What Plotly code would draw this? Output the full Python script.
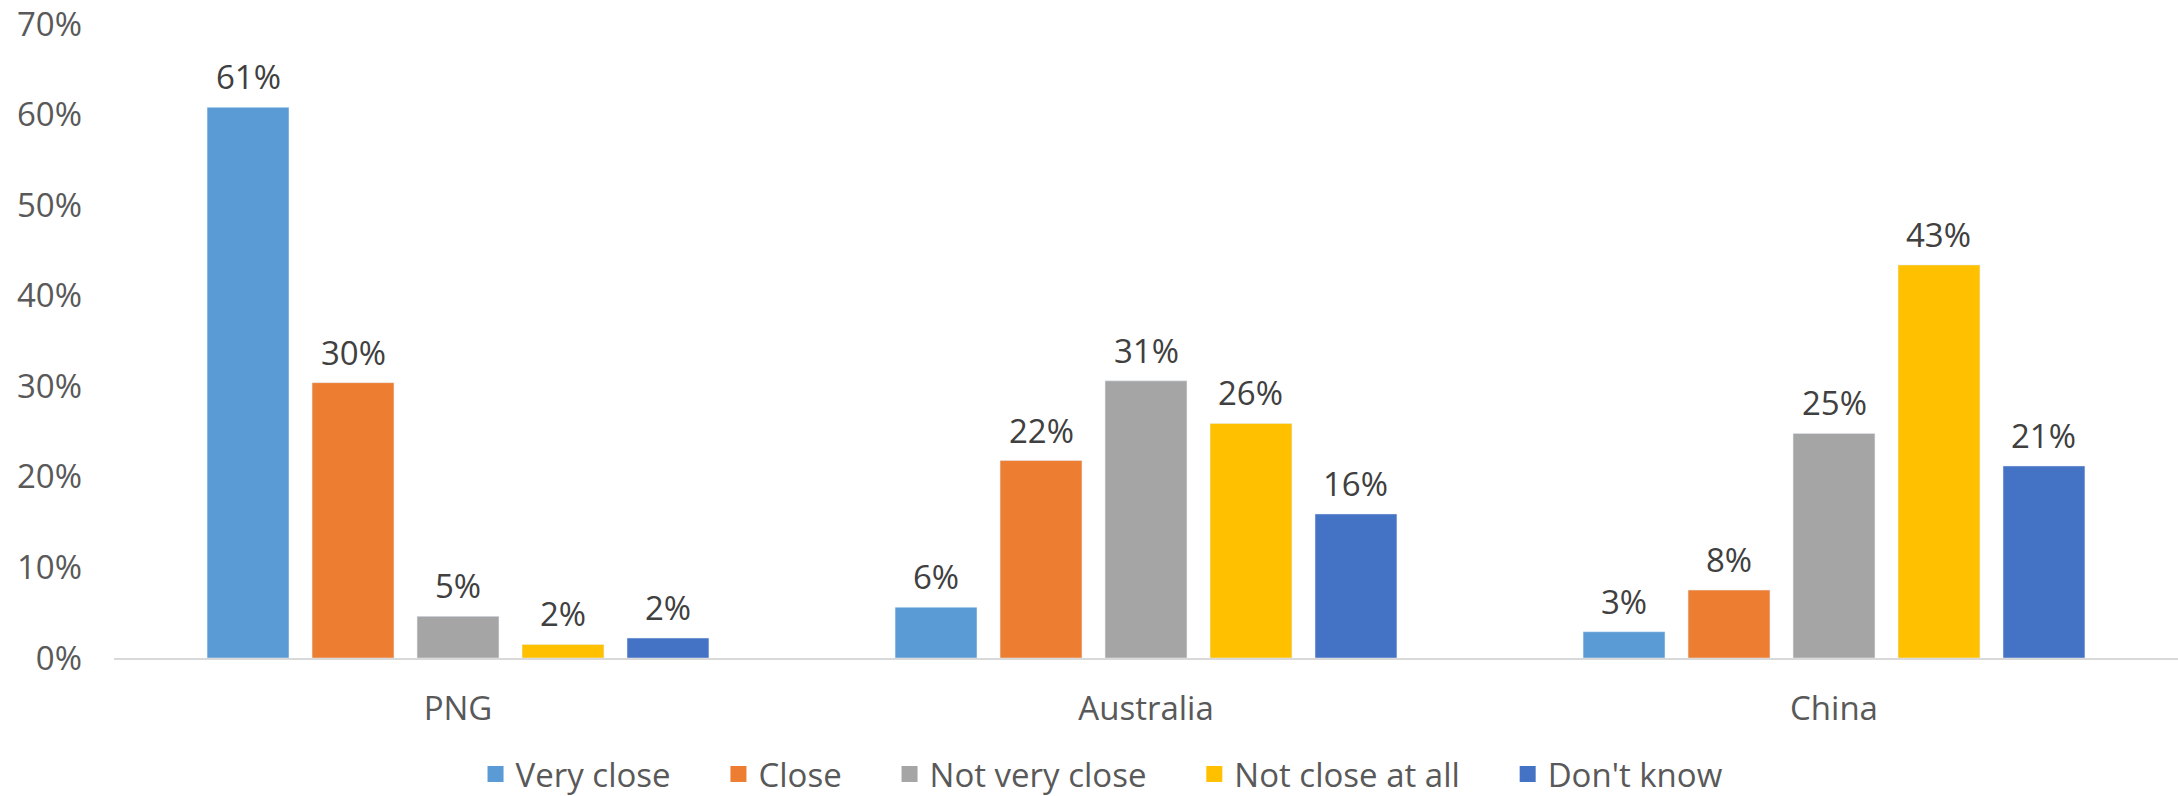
import plotly.graph_objects as go

countries = ["PNG", "Australia", "China"]

very_close = [0.608, 0.056, 0.029]
close = [0.304, 0.218, 0.075]
not_very_close = [0.046, 0.306, 0.248]
not_close_at_all = [0.015, 0.259, 0.434]
dont_know = [0.022, 0.159, 0.212]

series = [
    ("Very close", very_close, "#5B9BD5"),
    ("Close", close, "#ED7D31"),
    ("Not very close", not_very_close, "#A5A5A5"),
    ("Not close at all", not_close_at_all, "#FFC000"),
    ("Don't know", dont_know, "#4472C4"),
]

FONT = "'Open Sans', 'Noto Sans', sans-serif"
W, H = 2178, 796
L, R, T, B = 114, 0, 24, 138
BARGAP = 0.237

# width of one bar slot inside a category, used to put the labels over each bar
slot = (W - L - R) / len(countries) * (1 - BARGAP) / len(series)

fig = go.Figure()
for i, (name, vals, col) in enumerate(series):
    fig.add_trace(go.Bar(x=countries, y=vals, name=name, marker_color=col,
                         showlegend=False))
    # legend entry with a bigger square swatch
    pad = "\u00a0" * 5 if i < len(series) - 1 else ""
    fig.add_trace(go.Scatter(x=[None], y=[None], mode="markers", name=name + pad,
                             marker=dict(symbol="square", size=16, color=col)))
    for c, v in zip(countries, vals):
        fig.add_annotation(x=c, y=v, text=f"{v:.0%}", showarrow=False,
                           xshift=(i - (len(series) - 1) / 2) * slot,
                           yanchor="bottom", yshift=6,
                           font=dict(size=33, color="#404040"))

fig.update_layout(
    width=W, height=H,
    margin=dict(l=L, r=R, t=T, b=B, autoexpand=False),
    plot_bgcolor="white", paper_bgcolor="white",
    font=dict(family=FONT, size=33, color="#595959"),
    barmode="group", bargap=BARGAP, bargroupgap=0.22,
    showlegend=True,
    legend=dict(orientation="h", x=0.4787, xanchor="center", y=-0.183, yanchor="middle",
                font=dict(size=33, color="#595959"), itemwidth=30),
)
fig.update_yaxes(range=[0, 0.7], dtick=0.1, tickformat=".0%", showgrid=False,
                 zeroline=False, showline=False, ticks="", ticklabelstandoff=31,
                 automargin=False, ticklabeloverflow="allow")
fig.update_xaxes(showline=True, linecolor="#D9D9D9", linewidth=2, ticks="",
                 ticklabelstandoff=20, automargin=False)

# drop the default body margin so the figure fills the window exactly
fig.write_html("out.html", config={"displayModeBar": False},
               post_script="document.body.style.margin = '0';")
